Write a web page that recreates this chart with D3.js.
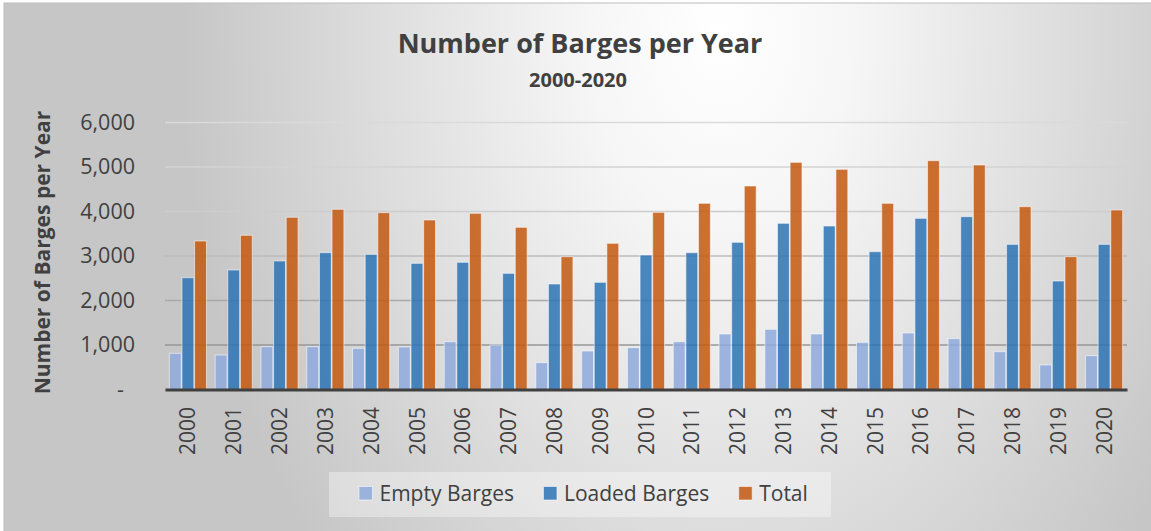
<!DOCTYPE html>
<html>
    <head>
        <meta http-equiv="Content-Type" content="text/html;charset=utf-8">
        <script src="https://d3js.org/d3.v7.min.js"></script>
        <title>Number of Barges per Year</title>
        <style>
            body { margin:0; background:#fff; }
            text { font-family:"Open Sans", sans-serif; fill:#404040; }
        </style>
    </head>
    <body>
        <svg width="1151" height="531"></svg>
    </body>
    <script>
        // values
        var years = ["2000","2001","2002","2003","2004","2005","2006","2007","2008","2009","2010",
                     "2011","2012","2013","2014","2015","2016","2017","2018","2019","2020"];
        var empty  = [813, 775, 962, 962, 925, 955,1075,1000, 603, 865, 940,
                      1075,1247,1352,1247,1060,1270,1142, 850, 551, 760];
        var loaded = [2512,2685,2888,3075,3037,2835,2858,2610,2371,2408,3022,
                      3075,3307,3734,3674,3097,3846,3884,3262,2438,3262];
        var total  = [3337,3465,3870,4049,3974,3809,3959,3644,2985,3285,3981,
                      4183,4573,5105,4948,4183,5142,5045,4109,2985,4034];
        var seriesNames  = ["Empty Barges","Loaded Barges","Total"];
        var seriesColors = ["#8FAADC","#2E75B6","#C55A11"];
        var yTicks = [0,1000,2000,3000,4000,5000,6000];

        var series = [empty, loaded, total];
        var rows = years.map(function(y,i){
            return {year:y, vals:series.map(function(s,j){ return {key:seriesNames[j], v:s[i]}; })};
        });

        var svg = d3.select("svg");
        var defs = svg.append("defs");

        // chart background
        var bg = defs.append("radialGradient")
            .attr("id","bgGrad")
            .attr("gradientUnits","userSpaceOnUse")
            .attr("cx",720).attr("cy",30).attr("r",540)
            .attr("gradientTransform","translate(720,30) scale(1,1.45) translate(-720,-30)");
        bg.append("stop").attr("offset",0).attr("stop-color","#ffffff");
        bg.append("stop").attr("offset",0.25).attr("stop-color","#f6f6f6");
        bg.append("stop").attr("offset",1).attr("stop-color","#c6c6c6");

        var gg = defs.append("linearGradient")
            .attr("id","gridGrad")
            .attr("gradientUnits","userSpaceOnUse")
            .attr("x1",0).attr("x2",0).attr("y1",122).attr("y2",390);
        gg.append("stop").attr("offset",0).attr("stop-color","#dadada");
        gg.append("stop").attr("offset",0.35).attr("stop-color","#cccccc");
        gg.append("stop").attr("offset",1).attr("stop-color","#848484");

        svg.append("rect")
            .attr("x",4).attr("y",3)
            .attr("width",1160).attr("height",540)
            .attr("fill","url(#bgGrad)")
            .attr("stroke","#bdbdbd");

        // plot area (window.top is reserved, hence the prefix)
        var plotL = 165, plotR = 1127, plotT = 122.5, plotB = 389.5;

        var y = d3.scaleLinear().domain([0,6000]).range([plotB, plotT]);
        var x0 = d3.scaleBand().domain(years).range([plotL, plotR])
            .paddingInner(0.19).paddingOuter(0.095);
        var x1 = d3.scaleBand().domain(seriesNames).range([0, x0.bandwidth()])
            .paddingInner(0.06);

        // gridlines
        svg.append("g")
            .selectAll("line")
            .data(yTicks.filter(function(d){ return d > 0; }))
            .enter()
            .append("line")
                .attr("x1",plotL).attr("x2",plotR)
                .attr("y1",function(d){ return y(d); })
                .attr("y2",function(d){ return y(d); })
                .attr("stroke","url(#gridGrad)")
                .attr("stroke-width",1.5);

        // bars
        var groups = svg.append("g")
            .selectAll("g")
            .data(rows)
            .enter()
            .append("g")
                .attr("transform",function(d){ return "translate(" + x0(d.year) + ",0)"; });

        groups.selectAll("rect")
            .data(function(d){ return d.vals; })
            .enter()
            .append("rect")
                .attr("x",function(d){ return x1(d.key); })
                .attr("width",x1.bandwidth())
                .attr("y",function(d){ return y(d.v); })
                .attr("height",function(d){ return plotB - y(d.v); })
                .attr("fill",function(d,i){ return seriesColors[i]; })
                .attr("fill-opacity",0.86)
                .attr("stroke","#ffffff")
                .attr("stroke-opacity",0.55)
                .attr("stroke-width",1);

        // y axis
        var yAxis = svg.append("g")
            .attr("transform","translate(" + plotL + ",0)")
            .call(d3.axisLeft(y)
                .tickValues(yTicks)
                .tickSize(0)
                .tickPadding(30)
                .tickFormat(function(d){ return d === 0 ? "-" : d3.format(",")(d); }));
        yAxis.select(".domain").remove();
        yAxis.selectAll("text")
            .attr("font-family",null)
            .style("font-size","21.5px")
            .attr("fill","#404040");
        yAxis.selectAll(".tick")
            .filter(function(d){ return d === 0; })
            .select("text")
                .attr("dx",-11);

        // x axis
        var xAxis = svg.append("g")
            .attr("transform","translate(0," + plotB + ")")
            .call(d3.axisBottom(x0).tickSize(0).tickSizeOuter(0));
        xAxis.select(".domain")
            .attr("stroke","#404040")
            .attr("stroke-width",3);
        xAxis.selectAll("text")
            .attr("font-family",null)
            .style("font-size","21px")
            .attr("fill","#404040")
            .attr("transform","rotate(-90)")
            .attr("x",-17.5)
            .attr("y",0)
            .attr("dy","0.36em")
            .attr("text-anchor","end");

        // titles
        svg.append("text")
            .attr("x",580).attr("y",53)
            .attr("text-anchor","middle")
            .style("font-size","27px")
            .style("font-weight","bold")
            .text("Number of Barges per Year");

        svg.append("text")
            .attr("x",578).attr("y",87)
            .attr("text-anchor","middle")
            .style("font-size","20px")
            .style("font-weight","bold")
            .text("2000-2020");

        svg.append("text")
            .attr("transform","translate(50,252.5) rotate(-90)")
            .attr("text-anchor","middle")
            .style("font-size","21px")
            .style("font-weight","bold")
            .text("Number of Barges per Year");

        // legend
        var legend = svg.append("g");
        legend.append("rect")
            .attr("x",329).attr("y",472)
            .attr("width",502).attr("height",45)
            .attr("fill","#ffffff")
            .attr("fill-opacity",0.35);

        var lx = 359;
        seriesNames.forEach(function(name,i){
            legend.append("rect")
                .attr("x",lx).attr("y",486.5)
                .attr("width",13.5).attr("height",13.5)
                .attr("fill",seriesColors[i])
                .attr("fill-opacity",0.86)
                .attr("stroke","#ffffff")
                .attr("stroke-opacity",0.55);
            var t = legend.append("text")
                .attr("x",lx + 20.5).attr("y",493.3)
                .attr("dy","0.35em")
                .style("font-size","21px")
                .text(name);
            lx += 20.5 + t.node().getComputedTextLength() + 29.5;
        });
    </script>
</html>
